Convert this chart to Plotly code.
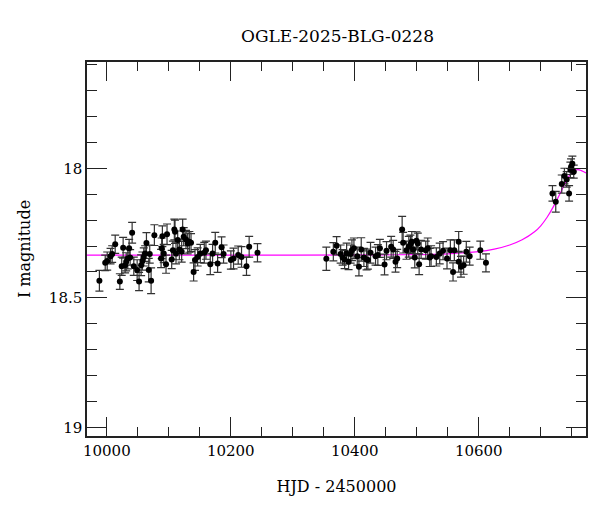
import plotly.graph_objects as go

# ---- data (HJD-2450000, I mag, error) ----
t_obs = [9988.0, 9997.4, 10000.6, 10006.0, 10008.6, 10013.5, 10021.0, 10024.0, 10026.3, 10029.5,
         10031.2, 10033.8, 10036.0, 10037.6, 10040.8, 10043.5, 10048.9, 10052.0, 10055.3, 10057.4,
         10059.6, 10061.8, 10063.9, 10067.6, 10069.2, 10071.4, 10076.7, 10087.5, 10088.5, 10089.6,
         10091.8, 10095.5, 10097.1, 10104.6, 10106.6, 10108.9, 10110.0, 10111.6, 10114.3, 10117.0,
         10120.7, 10122.3, 10124.0, 10127.7, 10130.4, 10133.1, 10135.8, 10140.0, 10142.2, 10146.5,
         10150.8, 10157.2, 10159.9, 10166.9, 10170.6, 10174.9, 10178.7, 10185.1, 10188.3, 10200.1,
         10204.4, 10211.9, 10217.3, 10225.3, 10229.6, 10243.0,
         10354.1, 10365.4, 10370.7, 10377.2, 10380.4, 10383.6, 10386.8, 10390.0, 10393.3, 10395.4,
         10398.6, 10404.0, 10406.7, 10410.4, 10414.7, 10419.0, 10421.1, 10425.4, 10433.5, 10437.2,
         10440.5, 10448.0, 10451.2, 10458.7, 10461.9, 10465.7, 10468.4, 10476.4, 10478.0, 10483.4,
         10487.1, 10489.8, 10492.0, 10494.1, 10496.8, 10499.5, 10501.6, 10503.8, 10507.0, 10514.5,
         10517.7, 10520.9, 10523.1, 10531.6, 10537.0, 10542.4, 10548.8, 10554.2, 10558.5, 10560.6,
         10567.6, 10567.7, 10571.3, 10575.6, 10579.9, 10585.3, 10602.5, 10611.6,
         10718.9, 10724.2, 10733.9, 10738.2, 10741.9, 10745.7, 10748.9, 10751.0, 10753.2, 10747.8]

mag_obs = [18.434, 18.365, 18.358, 18.339, 18.331, 18.293, 18.437, 18.378, 18.307, 18.374,
           18.361, 18.348, 18.309, 18.344, 18.249, 18.378, 18.393, 18.437, 18.374, 18.358,
           18.342, 18.329, 18.288, 18.393, 18.331, 18.434, 18.258, 18.348, 18.309, 18.262,
           18.329, 18.370, 18.255, 18.352, 18.316, 18.236, 18.245, 18.329, 18.277, 18.313,
           18.322, 18.236, 18.264, 18.275, 18.290, 18.284, 18.287, 18.400, 18.354, 18.342,
           18.329, 18.326, 18.316, 18.370, 18.329, 18.287, 18.367, 18.305, 18.331, 18.354,
           18.348, 18.335, 18.342, 18.378, 18.303, 18.326,
           18.349, 18.322, 18.299, 18.331, 18.344, 18.352, 18.329, 18.361, 18.331, 18.316,
           18.309, 18.339, 18.380, 18.313, 18.344, 18.352, 18.354, 18.326, 18.339, 18.335,
           18.309, 18.371, 18.318, 18.303, 18.313, 18.361, 18.348, 18.236, 18.287, 18.316,
           18.303, 18.293, 18.284, 18.313, 18.344, 18.280, 18.290, 18.370, 18.313, 18.316,
           18.309, 18.344, 18.339, 18.342, 18.329, 18.318, 18.348, 18.316, 18.400, 18.316,
           18.284, 18.361, 18.380, 18.374, 18.322, 18.339, 18.316, 18.365,
           18.097, 18.129, 18.061, 18.030, 18.043, 18.097, 17.994, 17.983, 18.013, 18.006]

err_obs = [0.040, 0.030, 0.035, 0.030, 0.032, 0.035, 0.030, 0.035, 0.040, 0.030,
           0.035, 0.040, 0.035, 0.030, 0.040, 0.035, 0.040, 0.035, 0.040, 0.035,
           0.035, 0.030, 0.040, 0.045, 0.035, 0.050, 0.040, 0.035, 0.040, 0.040,
           0.035, 0.035, 0.040, 0.035, 0.035, 0.040, 0.045, 0.040, 0.035, 0.040,
           0.040, 0.040, 0.035, 0.035, 0.040, 0.040, 0.035, 0.035, 0.040, 0.035,
           0.035, 0.040, 0.035, 0.040, 0.035, 0.040, 0.035, 0.040, 0.035, 0.035,
           0.040, 0.035, 0.040, 0.035, 0.040, 0.035,
           0.045, 0.035, 0.035, 0.035, 0.030, 0.035, 0.040, 0.030, 0.035, 0.040,
           0.040, 0.035, 0.035, 0.045, 0.035, 0.040, 0.035, 0.040, 0.035, 0.040,
           0.035, 0.040, 0.035, 0.040, 0.035, 0.040, 0.035, 0.050, 0.040, 0.035,
           0.040, 0.035, 0.040, 0.035, 0.040, 0.035, 0.040, 0.040, 0.035, 0.035,
           0.040, 0.035, 0.040, 0.035, 0.040, 0.035, 0.040, 0.040, 0.035, 0.040,
           0.040, 0.040, 0.040, 0.035, 0.040, 0.035, 0.035, 0.035,
           0.030, 0.040, 0.035, 0.030, 0.030, 0.030, 0.030, 0.030, 0.025, 0.030]

# model curve
t_model = [9968, 10100, 10300, 10450, 10550, 10600, 10625, 10650, 10670, 10690, 10700, 10710,
           10720, 10730, 10740, 10748, 10755, 10762, 10773]
mag_model = [18.335, 18.335, 18.335, 18.334, 18.330, 18.322, 18.312, 18.296, 18.276, 18.245,
             18.222, 18.190, 18.150, 18.103, 18.055, 18.022, 18.008, 18.006, 18.018]

title = "OGLE-2025-BLG-0228"
x_title = "HJD - 2450000"
y_title = "I magnitude"
x_range = [9968, 10773]
y_range = [19.033, 17.59]

font_family = "DejaVu Serif"

fig = go.Figure()
fig.add_trace(go.Scatter(
    x=t_model, y=mag_model, mode="lines", line=dict(color="#ff00ff", width=1.2, shape="spline"),
    hoverinfo="skip", showlegend=False))
fig.add_trace(go.Scatter(
    x=t_obs, y=mag_obs, mode="markers",
    marker=dict(color="black", size=6),
    error_y=dict(type="data", array=err_obs, visible=True, color="#333333", thickness=1.2, width=4),
    showlegend=False))

axis_common = dict(
    showgrid=False, zeroline=False, showline=True, linecolor="#222222", linewidth=1.5,
    mirror="allticks", ticks="inside", tickcolor="#222222", tickwidth=1,
    tickfont=dict(family=font_family, size=15, color="black"),
)

fig.update_xaxes(range=x_range, tick0=10000, dtick=200, ticklen=19, tickformat="d",
                 minor=dict(dtick=50, tick0=10000, ticklen=9, ticks="inside", tickcolor="#222222", tickwidth=1),
                 title=dict(text=x_title, font=dict(family=font_family, size=16, color="black"), standoff=22),
                 **axis_common)
fig.update_yaxes(range=y_range, tick0=18, dtick=0.5, ticklen=20,
                 minor=dict(dtick=0.1, tick0=18, ticklen=10, ticks="inside", tickcolor="#222222", tickwidth=1),
                 title=dict(text=y_title, font=dict(family=font_family, size=16, color="black"), standoff=14),
                 **axis_common)

fig.update_layout(
    width=600, height=512,
    margin=dict(l=87, r=12, t=62, b=76),
    paper_bgcolor="white", plot_bgcolor="white",
    title=dict(text=title, x=0.5625, xanchor="center", y=0.93, yanchor="middle",
               font=dict(family=font_family, size=17, color="black")),
)

fig.write_html("out.html")
